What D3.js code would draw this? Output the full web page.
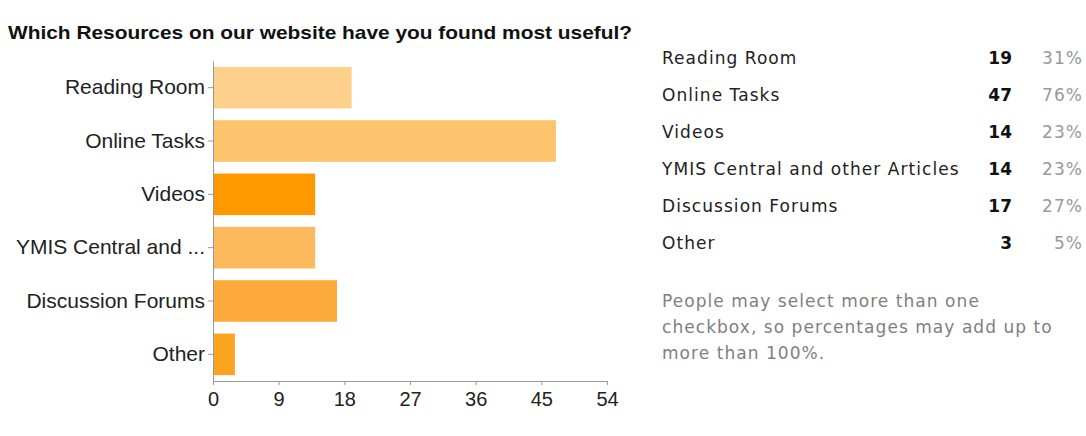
<!DOCTYPE html>
<html>
<head>
<meta charset="utf-8">
<script src="https://cdn.jsdelivr.net/npm/d3@7"></script>
<style>
  body { margin: 0; background: #fff; }
  svg { display: block; font-family: "Liberation Sans", Arial, sans-serif; }
  .tbl { font-family: "DejaVu Sans", Verdana, sans-serif; letter-spacing: 1.05px; }
</style>
</head>
<body>
<svg id="chart" width="1086" height="436"></svg>
<script>
// data
const categories = ['Reading Room', 'Online Tasks', 'Videos', 'YMIS Central and other Articles', 'Discussion Forums', 'Other'];
const axisLabels = ['Reading Room', 'Online Tasks', 'Videos', 'YMIS Central and ...', 'Discussion Forums', 'Other'];
const counts = [19, 47, 14, 14, 17, 3];
const percents = ['31%', '76%', '23%', '23%', '27%', '5%'];
const barColors = ['#fdd08c', '#fdc46e', '#ff9900', '#fdba5c', '#fcab3a', '#fca422'];
const xTicks = [0, 9, 18, 27, 36, 45, 54];
const noteLines = ['People may select more than one', 'checkbox, so percentages may add up to', 'more than 100%.'];

const svg = d3.select('#chart');

svg.append('text')
  .attr('x', 8).attr('y', 39)
  .attr('font-size', 19).attr('font-weight', 'bold')
  .attr('fill', '#111')
  .attr('textLength', 624).attr('lengthAdjust', 'spacingAndGlyphs')
  .text('Which Resources on our website have you found most useful?');

const x = d3.scaleLinear().domain([0, 54]).range([213, 607]);
const y = d3.scaleBand().domain(d3.range(categories.length)).range([61, 381])
  .paddingInner(0.22).paddingOuter(0.11);

// bars
svg.append('g').selectAll('rect')
  .data(counts)
  .join('rect')
  .attr('x', x(0))
  .attr('y', (d, i) => y(i))
  .attr('width', d => x(d) - x(0))
  .attr('height', y.bandwidth())
  .attr('fill', (d, i) => barColors[i]);

// y axis
const yAxis = svg.append('g')
  .attr('transform', `translate(${x(0)},0)`)
  .call(d3.axisLeft(y).tickSize(5).tickSizeOuter(0).tickPadding(3).tickFormat(i => axisLabels[i]));
yAxis.select('.domain').attr('stroke', '#999');
yAxis.selectAll('line').attr('stroke', '#999');
yAxis.selectAll('text').attr('font-size', 21).attr('fill', '#222')
  .attr('font-family', '"Liberation Sans", Arial, sans-serif');

// x axis
const xAxis = svg.append('g')
  .attr('transform', 'translate(0,381)')
  .call(d3.axisBottom(x).tickValues(xTicks).tickSize(4).tickSizeOuter(0).tickPadding(7));
xAxis.select('.domain').attr('stroke', '#999');
xAxis.selectAll('line').attr('stroke', '#999');
xAxis.selectAll('text').attr('font-size', 20).attr('fill', '#222')
  .attr('font-family', '"Liberation Sans", Arial, sans-serif');

// table on the right
const ty = d3.scalePoint().domain(d3.range(categories.length)).range([58, 243]);
const rows = svg.append('g').attr('class', 'tbl').selectAll('g')
  .data(categories)
  .join('g')
  .attr('transform', (d, i) => `translate(0,${ty(i)})`);

rows.append('text')
  .attr('x', 662).attr('dy', '0.35em')
  .attr('font-size', 17).attr('fill', '#222')
  .text(d => d);

rows.append('text')
  .attr('x', 1012).attr('dy', '0.35em')
  .attr('text-anchor', 'end')
  .attr('font-size', 17).attr('font-weight', 'bold').attr('fill', '#111')
  .style('letter-spacing', '0px')
  .text((d, i) => counts[i]);

rows.append('text')
  .attr('x', 1083).attr('dy', '0.35em')
  .attr('text-anchor', 'end')
  .attr('font-size', 17).attr('fill', '#999')
  .text((d, i) => percents[i]);

svg.append('g').attr('class', 'tbl').selectAll('text')
  .data(noteLines)
  .join('text')
  .attr('x', 662)
  .attr('y', (d, i) => 307 + i * 26)
  .attr('font-size', 17).attr('fill', '#808080')
  .text(d => d);
</script>
</body>
</html>
